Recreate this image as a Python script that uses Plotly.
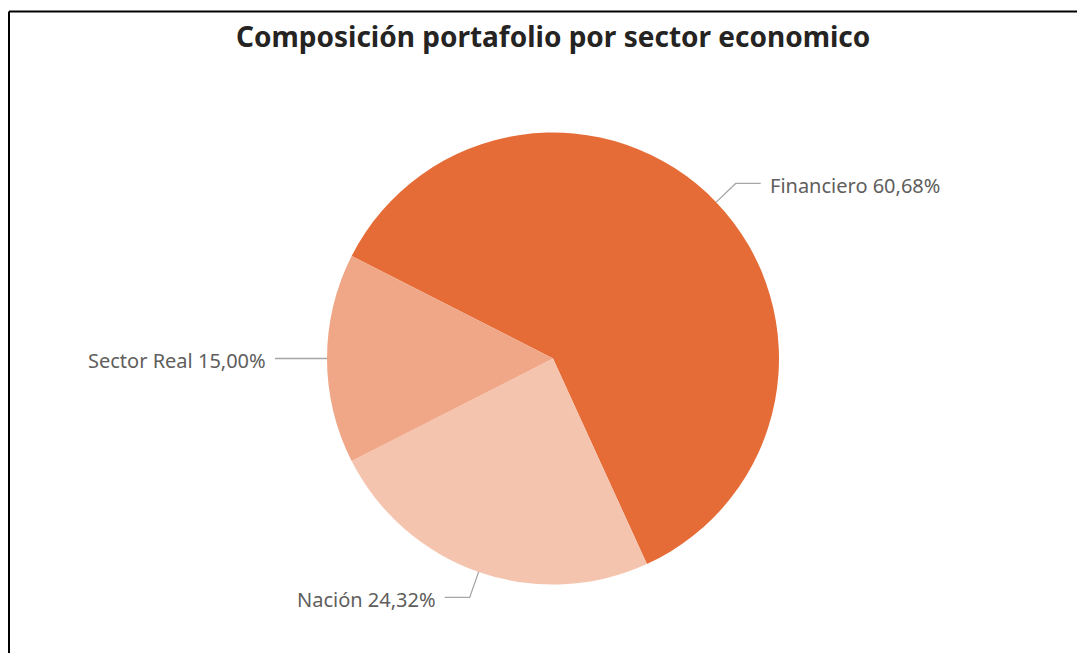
import math
import plotly.graph_objects as go

# ---- data ----
labels = ["Financiero", "Nación", "Sector Real"]
values = [60.68, 24.32, 15.00]
value_text = ["60,68%", "24,32%", "15,00%"]
colors = ["#E66C37", "#F5C4AF", "#F0A787"]
title_text = "Composición portafolio por sector economico"

# ---- layout constants (pixels, in window coordinates) ----
OFF = 8                      # default page margin of the html body
W, H = 1085 - OFF, 653 - OFF  # figure size
CX, CY, R = 553.0, 358.5, 226.0
RADIAL = 27.0
HORIZ = 25.0
GAP = 7.0

# rotation so that the last slice is centred at 9 o'clock
total = sum(values)
rotation = 270 + values[-1] / total * 360 / 2 - 360


def px(x):
    return (x - OFF) / W


def py(y):
    return 1 - (y - OFF) / H


fig = go.Figure()
fig.add_trace(go.Pie(
    labels=labels,
    values=values,
    sort=False,
    direction="clockwise",
    rotation=rotation,
    marker=dict(colors=colors, line=dict(width=0)),
    textinfo="none",
    hoverinfo="label+percent",
    showlegend=False,
    domain=dict(x=[px(CX - R), px(CX + R)], y=[py(CY + R), py(CY - R)]),
))

shapes = []
annotations = []
cum = 0.0
for lab, v, vt in zip(labels, values, value_text):
    mid = rotation + (cum + v / 2) / total * 360  # clockwise from 12 o'clock
    cum += v
    a = math.radians(mid)
    sx, sy = math.sin(a), -math.cos(a)
    x0, y0 = CX + R * sx, CY + R * sy
    x1, y1 = CX + (R + RADIAL) * sx, CY + (R + RADIAL) * sy
    side = 1 if sx > 1e-6 else -1
    x2, y2 = x1 + side * HORIZ, y1
    path = f"M {px(x0)} {py(y0)} L {px(x1)} {py(y1)} L {px(x2)} {py(y2)}"
    shapes.append(dict(type="path", xref="paper", yref="paper", path=path,
                       line=dict(color="#A6A6A6", width=1.3)))
    annotations.append(dict(
        x=px(x2 + side * GAP), y=py(y2 + 2), xref="paper", yref="paper",
        text=f"{lab} {vt}", showarrow=False,
        xanchor="left" if side > 0 else "right", yanchor="middle",
        font=dict(family="Noto Sans, Open Sans, sans-serif", size=20, color="#605E5C"),
    ))

# title
annotations.append(dict(
    x=px(CX), y=py(36), xref="paper", yref="paper", text=f"<b>{title_text}</b>",
    showarrow=False, xanchor="center", yanchor="middle",
    font=dict(family="Noto Sans, Open Sans, sans-serif", size=28, color="#252423"),
))

# frame lines (top and left)
shapes.append(dict(type="line", xref="paper", yref="paper",
                   x0=px(9), y0=py(11.5), x1=1, y1=py(11.5),
                   line=dict(color="#000000", width=2)))
shapes.append(dict(type="line", xref="paper", yref="paper",
                   x0=px(9), y0=py(11.5), x1=px(9), y1=0,
                   line=dict(color="#000000", width=2)))

fig.update_layout(
    width=W, height=H, autosize=False,
    margin=dict(l=0, r=0, t=0, b=0),
    paper_bgcolor="white", plot_bgcolor="white",
    shapes=shapes, annotations=annotations,
)

fig.write_html("out.html")
